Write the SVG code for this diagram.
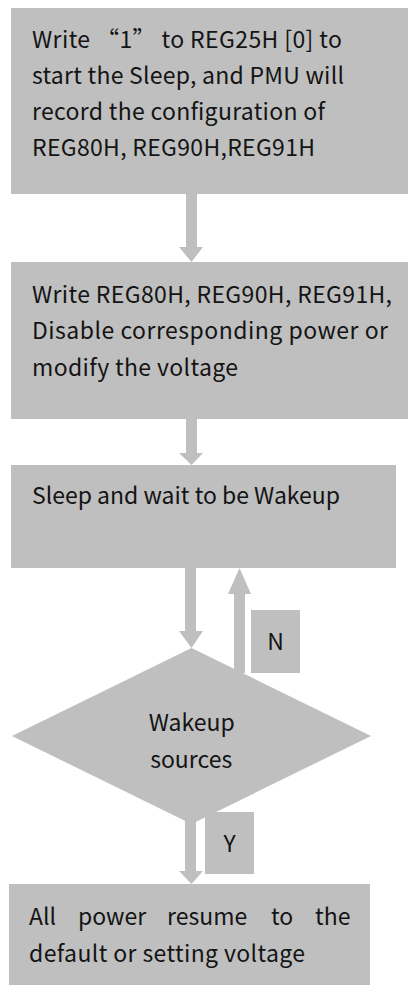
<svg xmlns="http://www.w3.org/2000/svg" width="408" height="985" viewBox="0 0 408 985">
<style>
.shape{fill:#bfbfbf}
.t{font-family:"Noto Sans CJK SC","Noto Sans",sans-serif;font-size:23px;fill:#141414}
.c{text-anchor:middle}
</style>
<rect width="408" height="985" fill="#fff"/>
<g id="connectors">
<rect class="shape" x="186" y="194" width="11" height="53"/>
<polygon class="shape" points="179,247 203,247 191.5,262"/>
<rect class="shape" x="186" y="418" width="11" height="36"/>
<polygon class="shape" points="179,453 203,453 191.5,465"/>
<rect class="shape" x="185" y="567" width="11" height="64"/>
<polygon class="shape" points="179,631 203,631 191.5,648"/>
<rect class="shape" x="234" y="593" width="11" height="80"/>
<polygon class="shape" points="228,594 251,594 239.5,568"/>
<rect class="shape" x="185" y="815" width="11" height="57"/>
<polygon class="shape" points="179,871 203,871 191.5,884"/>
</g>
<g id="n1">
<rect class="shape" x="11" y="8" width="397" height="186"/>
<text class="t" x="32" y="48" textLength="310" lengthAdjust="spacing">Write “1” to REG25H [0] to</text>
<text class="t" x="32" y="84" textLength="312" lengthAdjust="spacing">start the Sleep, and PMU will</text>
<text class="t" x="32" y="120" textLength="293" lengthAdjust="spacing">record the configuration of</text>
<text class="t" x="32" y="156" textLength="283" lengthAdjust="spacing">REG80H, REG90H,REG91H</text>
</g>
<g id="n2">
<rect class="shape" x="11" y="262" width="397" height="157"/>
<text class="t" x="32" y="302.5" textLength="360" lengthAdjust="spacing">Write REG80H, REG90H, REG91H,</text>
<text class="t" x="32" y="339" textLength="356" lengthAdjust="spacing">Disable corresponding power or</text>
<text class="t" x="32" y="375.5" textLength="206" lengthAdjust="spacing">modify the voltage</text>
</g>
<g id="n3">
<rect class="shape" x="11" y="465" width="385" height="103"/>
<text class="t" x="32" y="504.3" textLength="308" lengthAdjust="spacing">Sleep and wait to be Wakeup</text>
</g>
<g id="d1">
<polygon class="shape" points="191.5,648 371,736 191.5,824 12,736"/>
<text class="t c" x="191.7" y="731">Wakeup</text>
<text class="t c" x="191.2" y="768">sources</text>
</g>
<g id="lblN">
<rect class="shape" x="251" y="610" width="49" height="63"/>
<text class="t c" x="275.5" y="650">N</text>
</g>
<g id="lblY">
<rect class="shape" x="205" y="812" width="49" height="62"/>
<text class="t c" x="229.5" y="852">Y</text>
</g>
<g id="n4">
<rect class="shape" x="9" y="884" width="361" height="101"/>
<text class="t" y="925"><tspan x="29">All</tspan><tspan x="78">power</tspan><tspan x="167">resume</tspan><tspan x="271">to</tspan><tspan x="315">the</tspan></text>
<text class="t" x="29" y="962" textLength="276" lengthAdjust="spacing">default or setting voltage</text>
</g>
</svg>
